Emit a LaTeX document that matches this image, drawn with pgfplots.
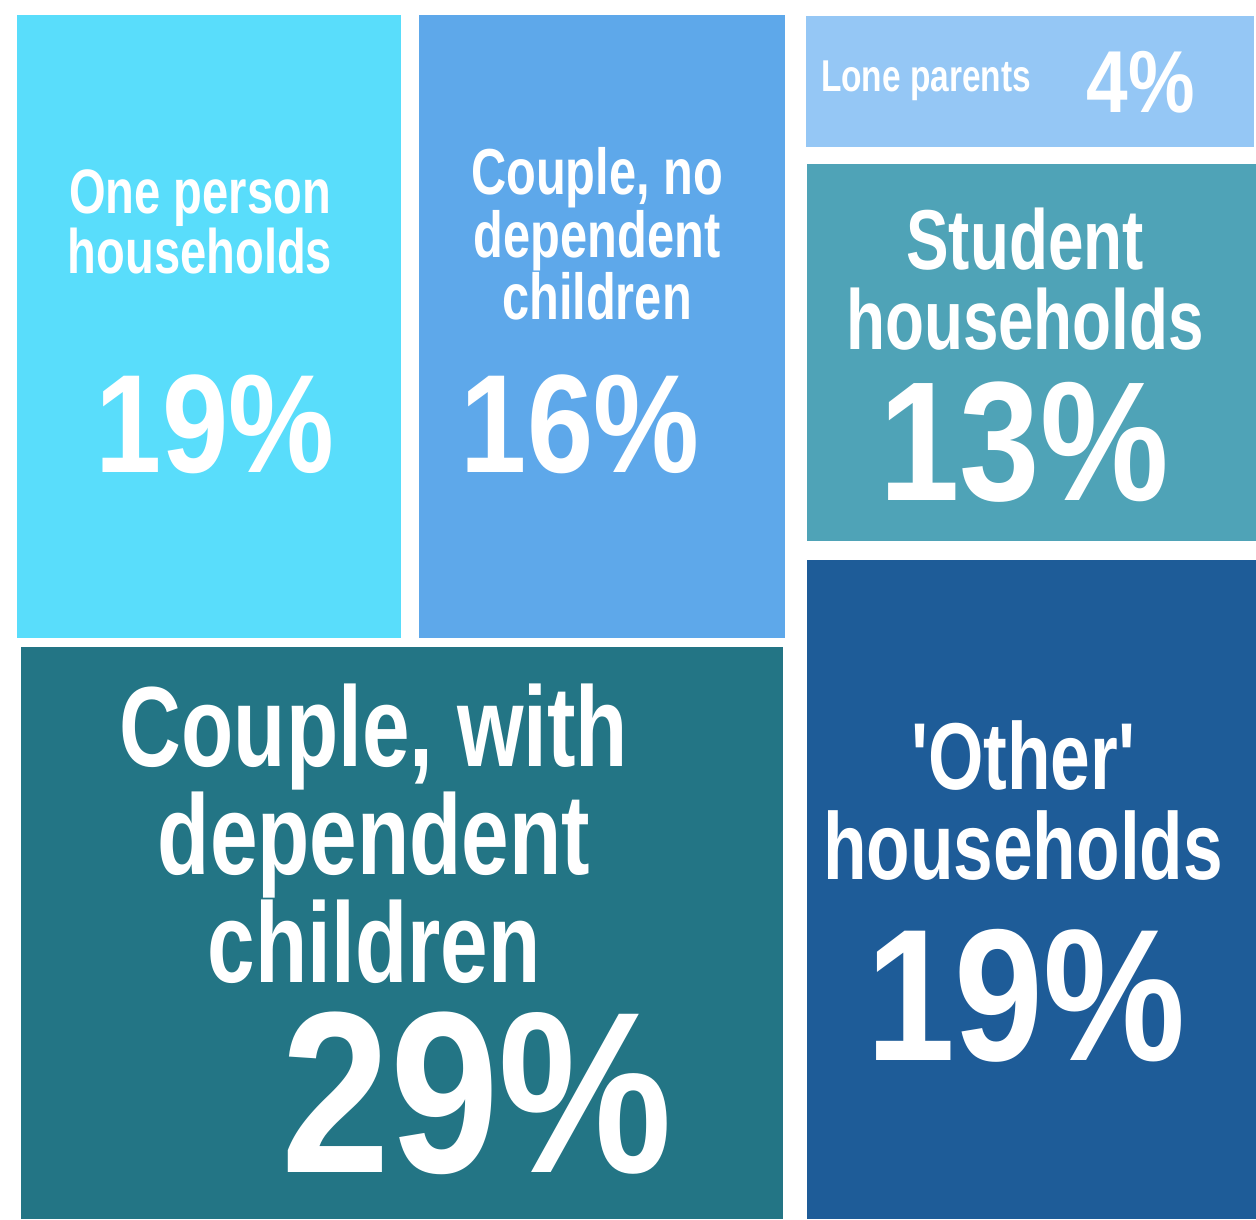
\documentclass[border=0pt]{standalone}
\usepackage{fontspec}
\usepackage{pgfplots}
\pgfplotsset{compat=1.18}
\newfontfamily\labfont{Liberation Sans}[FakeStretch=0.75]
\newfontfamily\numfont{Liberation Sans}[FakeStretch=0.85]

\definecolor{cOne}{HTML}{59DDFB}
\definecolor{cCpl}{HTML}{5EA8EA}
\definecolor{cLone}{HTML}{95C7F5}
\definecolor{cStu}{HTML}{4FA3B7}
\definecolor{cDep}{HTML}{237585}
\definecolor{cOth}{HTML}{1E5C98}

% #1,#2 = x centre and cap top in pixels, #3 = size, #4 = line skip, #5 = text
\newcommand{\lab}[5]{\node[anchor=north,align=center,text=white,inner sep=0pt,
  font=\labfont\bfseries\fontsize{#3}{#4}\selectfont] at (axis cs:#1,#2) {#5};}
% #1,#2 = x centre and baseline in pixels
\newcommand{\num}[4]{\node[anchor=base,text=white,inner sep=0pt] at (axis cs:#1,#2) {\numfont\bfseries\fontsize{#3}{#3}\selectfont #4};}

\begin{document}
\begin{tikzpicture}
\begin{axis}[width=628pt,height=609.5pt,scale only axis,hide axis,
  xmin=0,xmax=1256,ymin=0,ymax=1219,y dir=reverse,clip=false]
% full canvas, so the white margins stay
\addplot[draw=none,fill=white] coordinates {(0,0)(1256,0)(1256,1219)(0,1219)} --cycle;
% treemap tiles (pixel boxes of the reference)
\addplot[fill=cOne,draw=none] coordinates {(17,15)(401,15)(401,638)(17,638)} --cycle;
\addplot[fill=cCpl,draw=none] coordinates {(419,15)(785,15)(785,638)(419,638)} --cycle;
\addplot[fill=cLone,draw=none] coordinates {(806,16)(1254,16)(1254,147)(806,147)} --cycle;
\addplot[fill=cStu,draw=none] coordinates {(807,164)(1256,164)(1256,541)(807,541)} --cycle;
\addplot[fill=cDep,draw=none] coordinates {(21,647)(783,647)(783,1219)(21,1219)} --cycle;
\addplot[fill=cOth,draw=none] coordinates {(807,560)(1256,560)(1256,1219)(807,1219)} --cycle;

\lab{200}{169}{31.4}{28.5}{One person\\households}
\num{215}{472}{70}{19\%}

\lab{597}{147}{32.5}{27.5}{Couple, no\\dependent\\children}
\num{580}{472}{70}{16\%}

\lab{926}{60}{22.3}{22.3}{Lone parents}
\num{1141}{113}{44}{4\%}

\lab{1025}{208}{42.5}{40}{Student\\households}
\num{1024}{500}{85}{13\%}

\lab{374}{683}{57}{51.5}{Couple, with\\dependent\\children}
\num{477}{1172}{115}{29\%}

\lab{1023}{720}{47.5}{45}{'Other'\\households}
\num{1026}{1060}{94}{19\%}
\end{axis}
\end{tikzpicture}
\end{document}
